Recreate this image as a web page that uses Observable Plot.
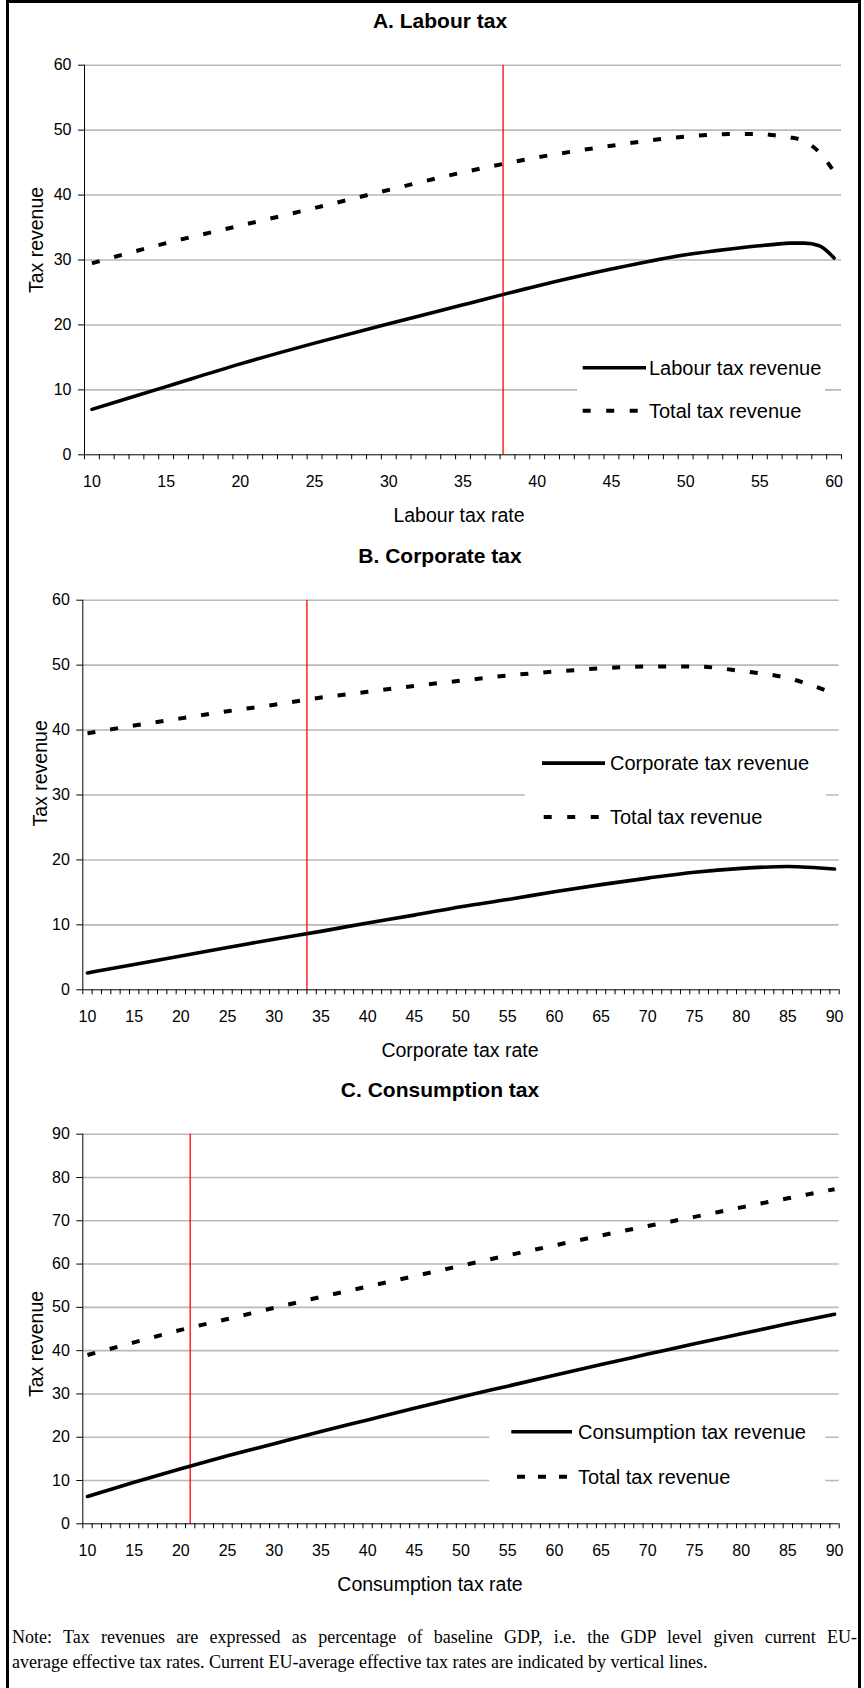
<!DOCTYPE html>
<html>
<head>
<meta charset="utf-8">
<script src="https://cdn.jsdelivr.net/npm/d3@7"></script>
<script src="https://cdn.jsdelivr.net/npm/@observablehq/plot@0.6"></script>
<style>
  body { margin: 0; background: #fff; }
  #page { position: relative; width: 864px; height: 1688px; overflow: hidden; background: #fff; }
  #frame { position: absolute; left: 6px; top: 0; width: 855px; height: 1760px; border: 3px solid #000; box-sizing: border-box; }
  .panel { position: absolute; left: 0; }
  .note { position: absolute; left: 12px; font-family: "Liberation Serif", "Times New Roman", serif; font-size: 18px; line-height: 25px; white-space: nowrap; color: #000; }
  #note1 { top: 1625px; width: 845px; text-align: justify; text-align-last: justify; white-space: normal; }
  #note2 { top: 1650px; }
</style>
</head>
<body>
<div id="page">
  <div id="frame"></div>
  <div class="note" id="note1">Note: Tax revenues are expressed as percentage of baseline GDP, i.e. the GDP level given current EU-</div>
  <div class="note" id="note2">average effective tax rates. Current EU-average effective tax rates are indicated by vertical lines.</div>
</div>
<script>
// ---------- DATA ----------
const seriesNames = ["Total tax revenue"];
const currentRates = [37.7, 33.5, 21.0]; // current EU-average effective tax rates (labour, corporate, consumption)

// A. Labour tax
const labourRate    = [10, 15, 20, 25, 30, 35, 40, 45, 50, 53, 55, 56, 57, 58, 59, 60];
const labourRevenue = [7.0, 10.5, 14.0, 17.2, 20.2, 23.1, 26.0, 28.6, 30.8, 31.7, 32.2, 32.4, 32.6, 32.6, 32.2, 30.3];
const labourTotal   = [29.5, 32.6, 35.3, 38.0, 40.8, 43.5, 45.8, 47.6, 49.0, 49.4, 49.4, 49.2, 48.9, 48.3, 46.6, 43.6];
const labourTicks   = [10, 15, 20, 25, 30, 35, 40, 45, 50, 55, 60];

// B. Corporate tax
const corporateRate    = [10, 15, 20, 25, 30, 35, 40, 45, 50, 55, 60, 65, 70, 75, 80, 85, 90];
const corporateRevenue = [2.6, 3.9, 5.2, 6.5, 7.8, 9.0, 10.3, 11.5, 12.8, 13.9, 15.1, 16.2, 17.2, 18.1, 18.7, 19.0, 18.6];
const corporateTotal   = [39.5, 40.7, 41.8, 42.9, 43.9, 45.0, 45.9, 46.8, 47.6, 48.4, 49.0, 49.5, 49.8, 49.8, 49.1, 48.0, 45.6];

// C. Consumption tax
const consumptionRate    = [10, 15, 20, 25, 30, 35, 40, 45, 50, 55, 60, 65, 70, 75, 80, 85, 90];
const consumptionRevenue = [6.3, 9.6, 12.7, 15.7, 18.5, 21.3, 24.0, 26.7, 29.3, 31.8, 34.3, 36.8, 39.2, 41.6, 43.9, 46.2, 48.4];
const consumptionTotal   = [39.0, 41.9, 44.8, 47.3, 49.9, 52.4, 54.8, 57.2, 59.6, 62.0, 64.3, 66.6, 68.8, 70.9, 73.1, 75.2, 77.3];

const wideTicks = [10, 15, 20, 25, 30, 35, 40, 45, 50, 55, 60, 65, 70, 75, 80, 85, 90];
const revenueTicks60 = [0, 10, 20, 30, 40, 50, 60];
const revenueTicks90 = [0, 10, 20, 30, 40, 50, 60, 70, 80, 90];

// ---------- LAYOUT ----------
const FONT = '"Liberation Sans", Arial, Helvetica, sans-serif';
const panels = [
  { top: 0, title: "A. Labour tax", xLabel: "Labour tax rate", xLabelX: 459,
    range: [10, 60], rates: labourRate, own: labourRevenue, total: labourTotal,
    ownName: "Labour tax revenue", current: currentRates[0],
    xTicks: labourTicks, yTicks: revenueTicks60, ml: 84, mr: 23,
    yLab: [43, 240],
    leg: { r: [577, 345, 825, 432], sx: [582.7, 646], dx: [582.7, 640], dash: "8,15.5", tx: 649, y1: 367.7, y2: 410.7 } },
  { top: 534.6, title: "B. Corporate tax", xLabel: "Corporate tax rate", xLabelX: 460,
    range: [10, 90], rates: corporateRate, own: corporateRevenue, total: corporateTotal,
    ownName: "Corporate tax revenue", current: currentRates[1],
    xTicks: wideTicks, yTicks: revenueTicks60, ml: 82.3, mr: 25.3,
    yLab: [46.5, 238.4],
    leg: { r: [524.7, 205, 826, 305], sx: [542, 605], dx: [543.7, 600], dash: "8,15.5", tx: 610, y1: 228.1, y2: 282.1 } },
  { top: 1069, title: "C. Consumption tax", xLabel: "Consumption tax rate", xLabelX: 430,
    range: [10, 90], rates: consumptionRate, own: consumptionRevenue, total: consumptionTotal,
    ownName: "Consumption tax revenue", current: currentRates[2],
    xTicks: wideTicks, yTicks: revenueTicks90, ml: 82.3, mr: 25.3,
    yLab: [43, 275],
    leg: { r: [489.3, 340, 825.3, 432], sx: [511.3, 572], dx: [517, 567], dash: "8,13", tx: 578, y1: 362.7, y2: 407.7 } }
];

const H = 534, TOP = 64.7, BOTTOM = 454.3;
const page = document.getElementById("page");

for (const p of panels) {
  const xMin = p.range[0] - 0.5, xMax = p.range[1] + 0.5;
  const yMax = d3.max(p.yTicks);
  const bounds = d3.range(xMin, xMax + 0.01, 1);
  const ownData = p.rates.map((r, i) => ({ rate: r, value: p.own[i] }));
  const totData = p.rates.map((r, i) => ({ rate: r, value: p.total[i] }));

  const svg = Plot.plot({
    width: 864, height: H,
    marginTop: TOP, marginBottom: H - BOTTOM, marginLeft: p.ml, marginRight: p.mr,
    style: { fontFamily: FONT, fontSize: "16px", color: "#000", background: "transparent", overflow: "visible" },
    x: { domain: [xMin, xMax], label: null },
    y: { domain: [0, yMax], label: null },
    marks: [
      Plot.gridY(p.yTicks.filter(d => d > 0), { stroke: "#b9b9b9", strokeOpacity: 1, strokeWidth: 1.6 }),
      Plot.ruleX([p.current], { y1: 0, y2: yMax, stroke: "#ff0000", strokeWidth: 1.3 }),
      Plot.line(totData, { x: "rate", y: "value", stroke: "#000", strokeWidth: 4, strokeDasharray: "8,15", strokeLinecap: "butt", curve: "monotone-x" }),
      Plot.line(ownData, { x: "rate", y: "value", stroke: "#000", strokeWidth: 3.6, curve: "monotone-x" }),
      Plot.ruleY([0], { stroke: "#000", strokeWidth: 1 }),
      Plot.ruleX([xMin], { stroke: "#000", strokeWidth: 1 }),
      Plot.axisX(p.xTicks, { tickSize: 0, tickPadding: 21, label: null }),
      Plot.axisX(bounds, { tickSize: 5, tickFormat: () => "", label: null }),
      Plot.axisY(p.yTicks, { tickSize: 6, tickPadding: 7, label: null })
    ]
  });
  svg.classList.add("panel");
  svg.style.top = p.top + "px";
  page.appendChild(svg);

  const s = d3.select(svg);
  // title
  s.append("text").attr("x", 440).attr("y", 28).attr("text-anchor", "middle")
    .attr("font-family", FONT).attr("font-weight", "bold").attr("font-size", 21).attr("fill", "#000").text(p.title);
  // x label
  s.append("text").attr("x", p.xLabelX).attr("y", 522).attr("text-anchor", "middle")
    .attr("font-family", FONT).attr("font-size", 19.5).attr("fill", "#000").text(p.xLabel);
  // y label
  s.append("text").attr("transform", `translate(${p.yLab[0]},${p.yLab[1]}) rotate(-90)`).attr("text-anchor", "middle")
    .attr("font-family", FONT).attr("font-size", 19.5).attr("fill", "#000").text("Tax revenue");
  // legend
  const L = p.leg;
  const g = s.append("g").attr("text-anchor", "start");
  g.append("rect").attr("x", L.r[0]).attr("y", L.r[1]).attr("width", L.r[2] - L.r[0]).attr("height", L.r[3] - L.r[1]).attr("fill", "#fff");
  g.append("line").attr("x1", L.sx[0]).attr("x2", L.sx[1]).attr("y1", L.y1).attr("y2", L.y1).attr("stroke", "#000").attr("stroke-width", 3.6);
  g.append("text").attr("x", L.tx).attr("y", L.y1 + 7).attr("text-anchor", "start").attr("font-family", FONT).attr("font-size", 20).attr("fill", "#000").text(p.ownName);
  g.append("line").attr("x1", L.dx[0]).attr("x2", L.dx[1]).attr("y1", L.y2).attr("y2", L.y2).attr("stroke", "#000").attr("stroke-width", 4).attr("stroke-dasharray", L.dash);
  g.append("text").attr("x", L.tx).attr("y", L.y2 + 7).attr("text-anchor", "start").attr("font-family", FONT).attr("font-size", 20).attr("fill", "#000").text(seriesNames[0]);
}
</script>
</body>
</html>
